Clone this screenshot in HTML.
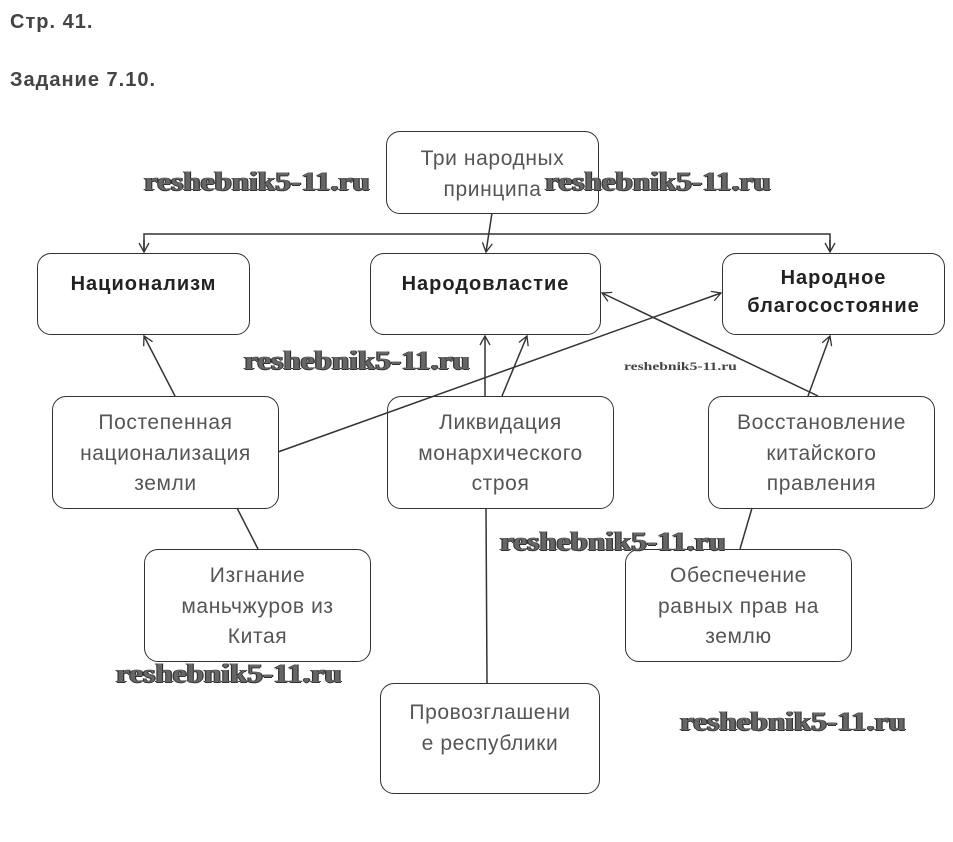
<!DOCTYPE html>
<html><head><meta charset="utf-8"><style>
body{margin:0;background:#fff;width:953px;height:842px;position:relative;overflow:hidden;font-family:"Liberation Sans",sans-serif}
.b{position:absolute;border:1.3px solid #333;border-radius:14px;box-sizing:border-box;text-align:center;color:#555;font-size:21px;letter-spacing:0.6px;line-height:30.5px;white-space:nowrap}
.h{font-weight:bold;color:#222;font-size:20px;letter-spacing:1px}
.t{position:absolute;font-weight:bold;color:#444;font-size:20px;letter-spacing:1px}
.w{position:absolute;font-family:"Liberation Serif",serif;font-weight:bold;font-size:26px;color:#666;text-shadow:1px 0 #333,-1px 0 #333,0 1px #333;white-space:nowrap;transform:scaleX(1.2);transform-origin:left top}
svg{position:absolute;left:0;top:0}
</style></head><body>
<div class="t" style="left:10px;top:11px">Стр. 41.</div>
<div class="t" style="left:10px;top:69px">Задание 7.10.</div>
<svg width="953" height="842"><defs><marker id="a" markerWidth="12" markerHeight="12" refX="10" refY="6" orient="auto" markerUnits="userSpaceOnUse"><path d="M1,1 L10,6 L1,11" fill="none" stroke="#333" stroke-width="1.3"/></marker></defs>
<g stroke="#333" stroke-width="1.5" fill="none">
<line x1="492" y1="213" x2="486" y2="252" marker-end="url(#a)"/>
<polyline points="144,252 144,234 830,234 830,252"/>
<line x1="144" y1="240" x2="144" y2="252" marker-end="url(#a)"/>
<line x1="830" y1="240" x2="830" y2="252" marker-end="url(#a)"/>
<line x1="175" y1="396" x2="144" y2="336" marker-end="url(#a)"/>
<line x1="278" y1="452" x2="721" y2="293" marker-end="url(#a)"/>
<line x1="485" y1="396" x2="485" y2="336" marker-end="url(#a)"/>
<line x1="502" y1="396" x2="527" y2="336" marker-end="url(#a)"/>
<line x1="808" y1="396" x2="830" y2="336" marker-end="url(#a)"/>
<line x1="818" y1="396" x2="602" y2="293" marker-end="url(#a)"/>
<line x1="237" y1="508" x2="258" y2="549"/>
<line x1="486" y1="508" x2="487" y2="683"/>
<line x1="752" y1="508" x2="740" y2="549"/>
</g></svg>
<div class="b" style="left:386px;top:131px;width:213px;height:83px;padding-top:12px">Три народных<br>принципа</div>
<div class="b h" style="left:37px;top:253px;width:213px;height:82px;padding-top:15px">Национализм</div>
<div class="b h" style="left:370px;top:253px;width:231px;height:82px;padding-top:15px">Народовластие</div>
<div class="b h" style="left:722px;top:253px;width:223px;height:82px;padding-top:10px;line-height:28px">Народное<br>благосостояние</div>
<div class="b" style="left:52px;top:396px;width:227px;height:113px;padding-top:11px">Постепенная<br>национализация<br>земли</div>
<div class="b" style="left:387px;top:396px;width:227px;height:113px;padding-top:11px">Ликвидация<br>монархического<br>строя</div>
<div class="b" style="left:708px;top:396px;width:227px;height:113px;padding-top:11px">Восстановление<br>китайского<br>правления</div>
<div class="b" style="left:144px;top:549px;width:227px;height:113px;padding-top:11px">Изгнание<br>маньчжуров из<br>Китая</div>
<div class="b" style="left:625px;top:549px;width:227px;height:113px;padding-top:11px">Обеспечение<br>равных прав на<br>землю</div>
<div class="b" style="left:380px;top:683px;width:220px;height:111px;padding-top:14px">Провозглашени<br>е республики</div>
<div class="w" style="left:144px;top:167px">reshebnik5-11.ru</div>
<div class="w" style="left:545px;top:167px">reshebnik5-11.ru</div>
<div class="w" style="left:244px;top:346px">reshebnik5-11.ru</div>
<div class="w" style="left:624px;top:359px;font-size:12px;text-shadow:none;color:#444;transform:scaleX(1.3)">reshebnik5-11.ru</div>
<div class="w" style="left:500px;top:527px">reshebnik5-11.ru</div>
<div class="w" style="left:116px;top:659px">reshebnik5-11.ru</div>
<div class="w" style="left:680px;top:707px">reshebnik5-11.ru</div>
</body></html>
